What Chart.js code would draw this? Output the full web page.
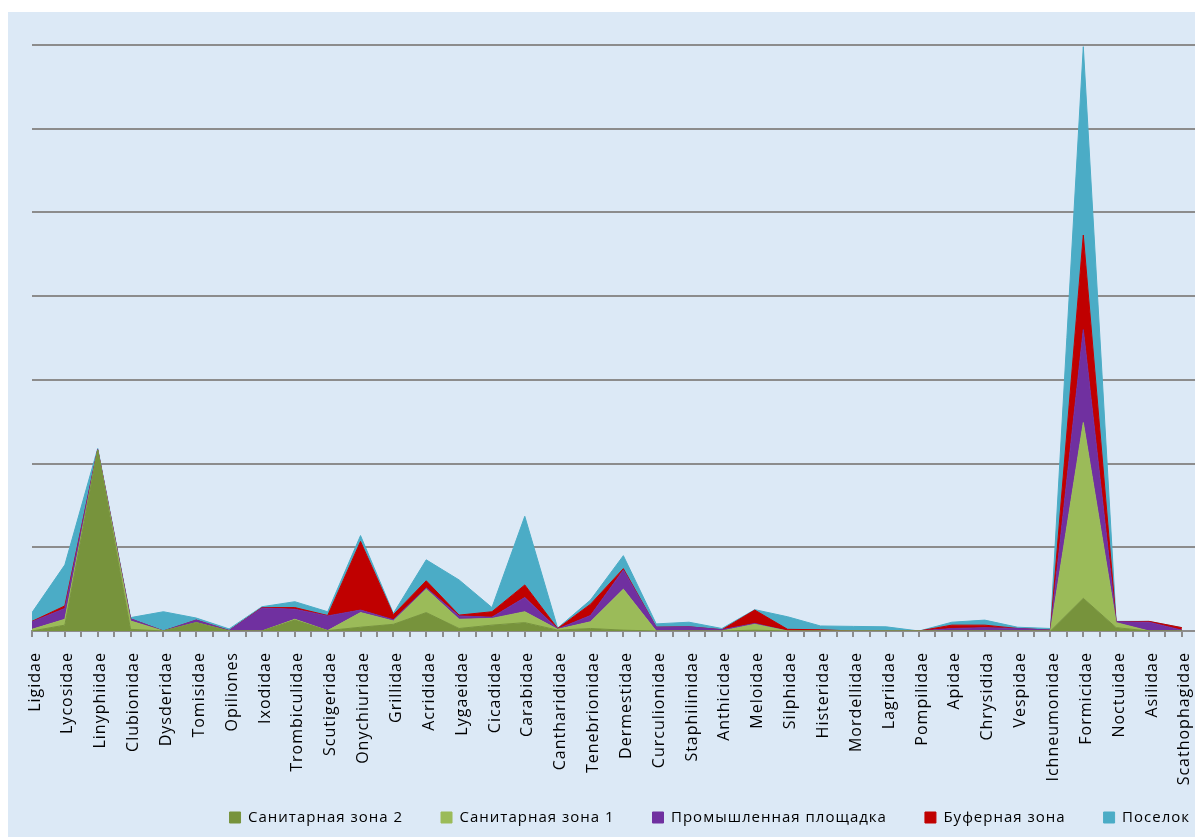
<!DOCTYPE html>
<html>
<head>
<meta charset="utf-8">
<script src="https://cdn.jsdelivr.net/npm/chart.js@4/dist/chart.umd.min.js"></script>
<style>
  html, body { margin: 0; padding: 0; background: #ffffff; }
  canvas { display: block; }
</style>
</head>
<body>
<canvas id="chart" width="1195" height="837"></canvas>
<script>
// Families of invertebrates along the category axis
const families = ['Ligidae','Lycosidae','Linyphiidae','Clubionidae','Dysderidae','Tomisidae','Opiliones','Ixodidae','Trombiculidae','Scutigeridae','Onychiuridae','Grillidae','Acrididae','Lygaeidae','Cicadidae','Carabidae','Cantharididae','Tenebrionidae','Dermestidae','Curculionidae','Staphilinidae','Anthicidae','Meloidae','Silphidae','Histeridae','Mordellidae','Lagriidae','Pompilidae','Apidae','Chrysidida','Vespidae','Ichneumonidae','Formicidae','Noctuidae','Asilidae','Scathophagidae'];

// Abundance per sampling zone (stacked from the bottom up)
const sanitaryZone2 = [0, 0.7, 21.6, 0.2, 0, 1.0, 0, 0, 1.3, 0.05, 0.45, 0.8, 2.2, 0.3, 0.7, 1.0, 0.1, 0.3, 0.1, 0, 0, 0, 0.1, 0, 0, 0, 0, 0, 0, 0, 0, 0, 3.9, 0.4, 0, 0];
const sanitaryZone1 = [0.2, 0.7, 0, 1.0, 0, 0, 0, 0, 0.1, 0, 1.75, 0.4, 2.8, 1.1, 0.8, 1.3, 0.1, 0.8, 4.9, 0, 0, 0, 0.7, 0, 0, 0, 0, 0, 0, 0, 0, 0, 21.0, 0.6, 0, 0];
const industrialSite = [0.9, 1.3, 0.05, 0.25, 0, 0.3, 0.05, 2.75, 1.2, 1.75, 0.3, 0.15, 0.15, 0.4, 0.15, 1.7, 0.05, 0.75, 2.3, 0.45, 0.5, 0.15, 0.1, 0, 0, 0, 0, 0, 0.3, 0.4, 0.3, 0.1, 11.1, 0.1, 1.05, 0.1];
const bufferZone = [0.05, 0.3, 0, 0, 0, 0, 0, 0.05, 0.2, 0.05, 8.2, 0.6, 0.85, 0.1, 0.65, 1.5, 0.05, 1.35, 0.15, 0, 0, 0, 1.6, 0.2, 0.15, 0, 0, 0, 0.4, 0.3, 0, 0, 11.3, 0, 0.1, 0.3];
const settlement = [1.05, 4.9, 0.15, 0.15, 2.3, 0.25, 0.2, 0.1, 0.7, 0.45, 0.7, 0.15, 2.5, 4.2, 0.5, 8.2, 0.05, 0.5, 1.55, 0.4, 0.55, 0.15, 0.05, 1.5, 0.45, 0.55, 0.5, 0, 0.35, 0.6, 0.15, 0.2, 22.5, 0.05, 0, 0];

const seriesNames = ['Санитарная зона 2', 'Санитарная зона 1', 'Промышленная площадка', 'Буферная зона', 'Поселок'];
const seriesValues = [sanitaryZone2, sanitaryZone1, industrialSite, bufferZone, settlement];
const seriesColors = ['#77933C', '#9BBB59', '#7030A0', '#C00000', '#4BACC6'];

const datasets = seriesValues.map((vals, k) => ({
  label: seriesNames[k],
  data: vals.map((v, i) => ({ x: i, y: v })),
  backgroundColor: seriesColors[k],
  borderColor: seriesColors[k],
  borderWidth: 1,
  pointRadius: 0,
  tension: 0,
  fill: k === 0 ? 'origin' : '-1'
}));

// Light blue panel behind the plot, spaced text, legend nudged toward the bottom-right corner
const panel = {
  id: 'panel',
  beforeLayout(chart) { chart.ctx.letterSpacing = '1px'; },
  afterLayout(chart) {
    const lg = chart.legend;
    if (lg) {
      lg.left += 33; lg.right += 33;
      lg.top -= 21; lg.bottom -= 21;
    }
  },
  beforeDraw(chart) {
    const { ctx, width, height } = chart;
    ctx.save();
    ctx.fillStyle = '#ffffff';
    ctx.fillRect(0, 0, width, height);
    ctx.fillStyle = '#dce9f6';
    ctx.fillRect(8, 12, width - 8, height - 12);
    ctx.restore();
    ctx.letterSpacing = '1px';
  }
};

new Chart(document.getElementById('chart'), {
  type: 'line',
  data: { datasets },
  plugins: [panel],
  options: {
    responsive: false,
    animation: false,
    devicePixelRatio: 1,
    layout: { padding: { left: 32, top: 45, right: 0, bottom: -19 } },
    plugins: {
      tooltip: { enabled: false },
      legend: {
        position: 'bottom',
        align: 'end',
        labels: {
          boxWidth: 11,
          boxHeight: 11,
          padding: 38,
          color: '#000000',
          font: { family: 'Open Sans', size: 15 }
        }
      }
    },
    scales: {
      x: {
        type: 'linear',
        min: 0,
        max: 35.4,
        afterBuildTicks: s => { s.ticks = Array.from({ length: 71 }, (_, i) => ({ value: i / 2 })); },
        afterFit: s => { s.height = 162; s.paddingLeft = 0; s.paddingRight = 0; },
        ticks: {
          autoSkip: false,
          maxRotation: 90,
          minRotation: 90,
          padding: 15,
          labelOffset: 3,
          color: '#000000',
          font: { family: 'Open Sans', size: 16 },
          callback: v => Number.isInteger(v) ? families[v] : ''
        },
        grid: { drawOnChartArea: false, drawTicks: true, tickLength: 6, color: '#8c8c8c', lineWidth: 2 },
        border: { display: true, color: '#8c8c8c', width: 2 }
      },
      y: {
        stacked: true,
        min: 0,
        max: 70,
        ticks: { display: false, stepSize: 10 },
        grid: { color: '#8c8c8c', lineWidth: 2, drawTicks: false },
        border: { display: false }
      }
    }
  }
});
</script>
</body>
</html>
